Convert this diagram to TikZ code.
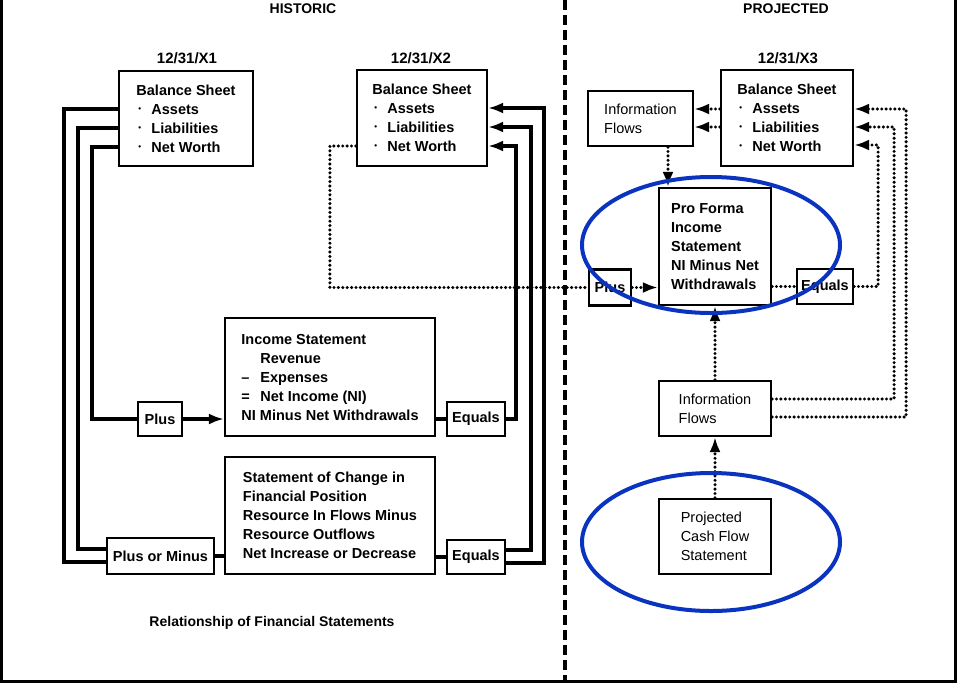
\documentclass[tikz,border=0pt]{standalone}
\usepackage{fontspec}
\setmainfont{Liberation Sans}
\usetikzlibrary{arrows.meta, calc}
\definecolor{RingColor}{RGB}{10,52,192}
\tikzstyle{box} = [draw, line width=2.2pt, inner sep=0pt, align=left, font=\fontsize{14.5}{19}\selectfont\bfseries]
\tikzstyle{plainbox} = [box, font=\fontsize{14.5}{19}\selectfont]
\tikzstyle{headlabel} = [font=\fontsize{14}{16}\selectfont\bfseries]
\tikzstyle{wire} = [line width=3.4pt]
\tikzstyle{wirearrow} = [wire, -{Latex[length=15pt,width=11pt]}]
\tikzstyle{dots} = [line width=3.4pt, line cap=round, dash pattern=on 0pt off 4.4pt]
\tikzstyle{dotarrow} = [dots, -{Latex[length=15pt,width=11pt]}]
\tikzstyle{ring} = [draw=RingColor, line width=4pt]
\newcommand{\bul}{\hspace*{2pt}\makebox[13pt][l]{\raisebox{3pt}{\footnotesize\textbullet}}}
\newcommand{\ind}[1]{\makebox[19pt][l]{#1}}

\begin{document}
\begin{tikzpicture}[x=1pt, y=-1pt]
\useasboundingbox (0,0) rectangle (957,683);
% frame and divider
\draw[line width=3pt] (1.5,0) -- (1.5,681.5) -- (955.5,681.5) -- (955.5,0);
\draw[line width=4.5pt, dash pattern=on 10pt off 5pt] (565,0) -- (565,683);

% headings and dates
\node[headlabel] (histhead) at (303,9) {HISTORIC};
\node[headlabel] (projhead) at (786,9) {PROJECTED};
\node[headlabel, font=\fontsize{15}{17}\selectfont\bfseries] (dateA) at (187,58) {12/31/X1};
\node[headlabel, font=\fontsize{15}{17}\selectfont\bfseries] (dateB) at (421,58) {12/31/X2};
\node[headlabel, font=\fontsize{15}{17}\selectfont\bfseries] (dateC) at (788,58) {12/31/X3};

% balance sheets
\node[box, minimum width=134pt, minimum height=95pt] (bsA) at (186,118.5)
  {Balance Sheet\\ \bul Assets\\ \bul Liabilities\\ \bul Net Worth};
\node[box, minimum width=130pt, minimum height=96pt] (bsB) at (422,118)
  {Balance Sheet\\ \bul Assets\\ \bul Liabilities\\ \bul Net Worth};
\node[box, minimum width=132pt, minimum height=96pt] (bsC) at (787,118)
  {Balance Sheet\\ \bul Assets\\ \bul Liabilities\\ \bul Net Worth};

% historic statements
\node[box, minimum width=210pt, minimum height=118pt] (incA) at (330,377)
  {Income Statement\\ \ind{}Revenue\\ \ind{--}Expenses\\ \ind{=}Net Income (NI)\\ NI Minus Net Withdrawals};
\node[box, minimum width=210pt, minimum height=117pt] (scfp) at (330,515.5)
  {Statement of Change in\\ Financial Position\\ Resource In Flows Minus\\ Resource Outflows\\ Net Increase or Decrease};
\node[box, minimum width=44pt, minimum height=34pt] (plusA) at (160,419) {Plus};
\node[box, minimum width=107pt, minimum height=36pt] (pmA) at (160.5,556) {Plus or Minus};
\node[box, minimum width=58pt, minimum height=34pt] (eqA) at (476,419) {Equals};
\node[box, minimum width=58pt, minimum height=34pt] (eqB) at (476,557) {Equals};

% projected statements
\node[plainbox, minimum width=105pt, minimum height=55pt] (infoA) at (640.5,118.5) {Information\\ Flows};
\node[box, minimum width=112pt, minimum height=117pt] (proforma) at (715,246.5)
  {Pro Forma\\ Income\\ Statement\\ NI Minus Net\\ Withdrawals};
\node[box, minimum width=42pt, minimum height=36pt] (plusB) at (610,287.5) {Plus};
\node[box, minimum width=56pt, minimum height=35pt] (eqC) at (825,286.5) {Equals};
\node[plainbox, minimum width=112pt, minimum height=55pt] (infoB) at (715,408.5) {Information\\ Flows};
\node[plainbox, minimum width=112pt, minimum height=75pt] (pcf) at (715,536.5) {Projected\\ Cash Flow\\ Statement};

\node[headlabel] (caption) at (272,623) {Relationship of Financial Statements};

% historic connections
\draw[wire] (bsA.west |- 0,109) -- ++(-54,0) |- (pmA.west |- 0,562);
\draw[wire] (bsA.west |- 0,128) -- ++(-40,0) |- (pmA.west |- 0,549);
\draw[wire] (bsA.west |- 0,147) -- ++(-26,0) |- (plusA.west);
\draw[wirearrow] (plusA.east) -- (plusA.east -| incA.west);
\draw[wire] (incA.east |- eqA.west) -- (eqA.west);
\draw[wirearrow] (eqA.east) -- ++(10,0) |- (bsB.east |- 0,146);
\draw[wire] (pmA.east) -- (pmA.east -| scfp.west);
\draw[wire] (scfp.east |- eqB.west) -- (eqB.west);
\draw[wirearrow] (eqB.east |- 0,550) -- ++(25,0) |- (bsB.east |- 0,127);
\draw[wirearrow] (eqB.east |- 0,563) -- ++(38,0) |- (bsB.east |- 0,108);

% projected connections
\draw[dots] (bsB.west |- 0,146) -- ++(-26,0) |- (plusB.west);
\draw[dotarrow] (plusB.east) -- (plusB.east -| proforma.west);
\draw[dots] (proforma.east |- eqC.west) -- (eqC.west);
\draw[dotarrow] (eqC.east) -- ++(24,0) |- (bsC.east |- 0,145);
\draw[dotarrow] (infoB.east |- 0,399) -- ++(122,0) |- (bsC.east |- 0,127);
\draw[dotarrow] (infoB.east |- 0,417) -- ++(134,0) |- (bsC.east |- 0,109);
\draw[dotarrow] (bsC.west |- 0,109) -- (infoA.east |- 0,109);
\draw[dotarrow] (bsC.west |- 0,127) -- (infoA.east |- 0,127);
\draw[dotarrow] (infoA.south -| 668,0) -- (proforma.north -| 668,0);
\draw[dotarrow] (infoB) -- (proforma);
\draw[dotarrow] (pcf) -- (infoB);

% highlight rings
\draw[ring] (711,245) ellipse [x radius=129pt, y radius=68pt];
\draw[ring] (711,542) ellipse [x radius=129pt, y radius=69pt];
\end{tikzpicture}
\end{document}
